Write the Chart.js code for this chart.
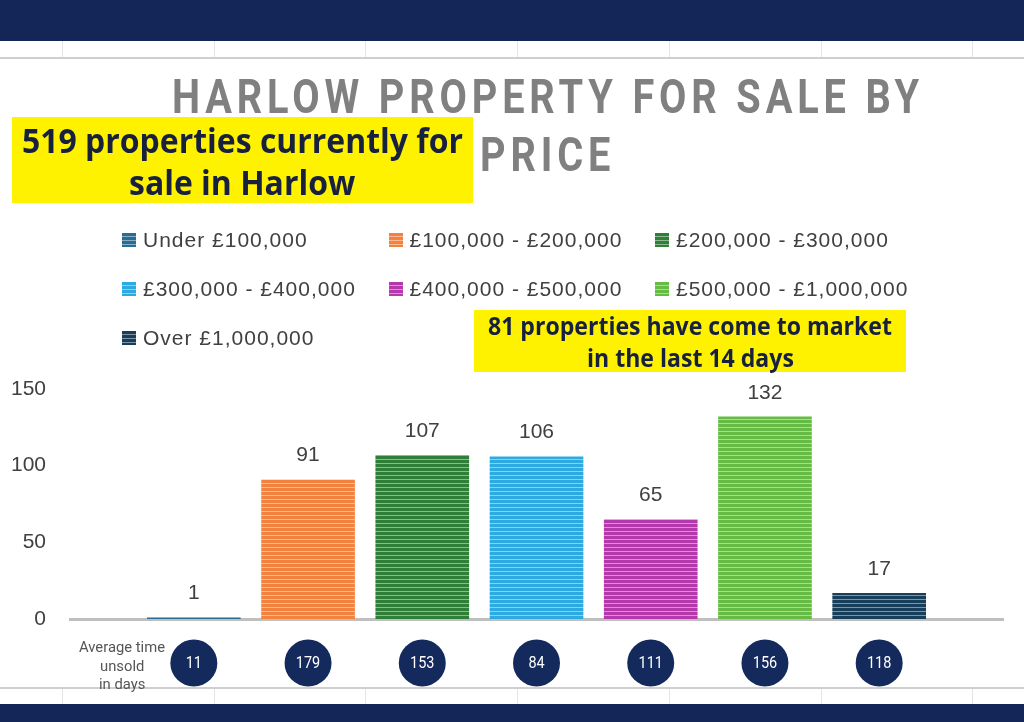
<!DOCTYPE html>
<html>
<head>
<meta charset="utf-8">
<script src="https://cdn.jsdelivr.net/npm/chart.js@4.4.1/dist/chart.umd.min.js"></script>
<style>
  html, body { margin: 0; padding: 0; }
  body { width: 1024px; height: 722px; position: relative; overflow: hidden; background: #fff; font-family: "Liberation Sans", Arial, sans-serif; }
  .band { position: absolute; left: 0; width: 1024px; background: #132657; }
  .cells { position: absolute; left: 0; width: 1024px; height: 16px; }
  .cells span { position: absolute; top: 0; width: 1px; height: 100%; background: #e4e4e4; }
  .rule { position: absolute; left: 0; width: 1024px; height: 2px; background: #cfcfcf; }
  #chartWrap { position: absolute; left: 0; top: 0; width: 1024px; height: 722px; }
  .line { position: absolute; white-space: nowrap; }
  .line span { display: inline-block; transform-origin: 0 0; }
  .title { color: #808080; font-family: Roboto, sans-serif; font-weight: bold; font-size: 49px; letter-spacing: 6px; line-height: 49px; }
  .note { position: absolute; background: #fff200; }
  .noteText { color: #17213f; font-family: "Open Sans", "Noto Sans", sans-serif; font-weight: bold; }
  #legend { position: absolute; left: 122px; top: 225px; width: 820px; }
  .item { position: absolute; height: 30px; display: flex; align-items: center; font-size: 21px; color: #404040; letter-spacing: 1px; white-space: nowrap; }
  .item i { display: inline-block; width: 14px; height: 14px; margin-right: 7px; }
  .avg { color: #555; font-family: Roboto, sans-serif; font-size: 14px; }
</style>
</head>
<body>
<div class="band" style="top:0;height:41px"></div>
<div class="cells" id="cellsTop" style="top:41px"></div>
<div class="rule" style="top:57px"></div>
<div class="rule" style="top:687px"></div>
<div class="cells" id="cellsBottom" style="top:689px;height:15px"></div>
<div class="band" style="top:704px;height:18px"></div>

<div id="chartWrap"><canvas id="priceChart"></canvas></div>

<div class="note" style="left:12px;top:117px;width:461px;height:86px"></div>
<div class="note" style="left:474px;top:310px;width:432px;height:62px"></div>
<div id="legend"></div>

<script>
// Chart data
const priceBands = ['Under £100,000', '£100,000 - £200,000', '£200,000 - £300,000', '£300,000 - £400,000',
  '£400,000 - £500,000', '£500,000 - £1,000,000', 'Over £1,000,000'];
const propertyCounts = [1, 91, 107, 106, 65, 132, 17];
const avgDaysUnsold = [11, 179, 153, 84, 111, 156, 118];
const bandColors = ['#2b6c93', '#f4823f', '#2f7f38', '#2eaae2', '#b43aab', '#66bb45', '#173f5c'];
const yTicks = [0, 50, 100, 150];

// Centered text lines, squeezed so the first line fits the target width
function placeLines(lines, cls, cx, top, lineH, targetW, extraStyle) {
  let scale = 1;
  lines.forEach(function(text, i) {
    const d = document.createElement('div');
    d.className = 'line ' + cls;
    d.style.top = (top + i * lineH) + 'px';
    if (extraStyle) d.setAttribute('style', d.getAttribute('style') + ';' + extraStyle);
    const s = document.createElement('span');
    s.textContent = text;
    d.appendChild(s);
    document.body.appendChild(d);
    const w = s.getBoundingClientRect().width;
    if (i === 0 && targetW) scale = targetW / w;
    s.style.transform = 'scaleX(' + scale + ')';
    d.style.left = (cx - w * scale / 2) + 'px';
  });
}

placeLines(['HARLOW PROPERTY FOR SALE BY', 'PRICE'], 'title', 548, 72, 58, 752);
placeLines(['519 properties currently for', 'sale in Harlow'], 'noteText', 242, 119, 42, 441, 'font-size:34px;line-height:42px');
placeLines(['81 properties have come to market', 'in the last 14 days'], 'noteText', 690, 309, 32, 404, 'font-size:25px;line-height:32px');
placeLines(['Average time', 'unsold', 'in days'], 'avg', 122, 638, 18.5, 86, 'line-height:18px');

// Striped fill like the original bars
function lighten(hex, amt) {
  const n = parseInt(hex.slice(1), 16);
  const r = (n >> 16) & 255, g = (n >> 8) & 255, b = n & 255;
  const mix = c => Math.round(c + (255 - c) * amt);
  return 'rgb(' + mix(r) + ',' + mix(g) + ',' + mix(b) + ')';
}

function stripePattern(ctx, color) {
  const c = document.createElement('canvas');
  c.width = 4; c.height = 4;
  const p = c.getContext('2d');
  p.fillStyle = color;
  p.fillRect(0, 0, 4, 3);
  p.fillStyle = lighten(color, 0.45);
  p.fillRect(0, 3, 4, 1);
  return ctx.createPattern(c, 'repeat');
}

// Spreadsheet cell lines top and bottom
['cellsTop', 'cellsBottom'].forEach(function(id) {
  const row = document.getElementById(id);
  for (let i = 0; i < 7; i++) {
    const s = document.createElement('span');
    s.style.left = (62 + i * 151.7) + 'px';
    row.appendChild(s);
  }
});

// Legend in three columns
const legend = document.getElementById('legend');
priceBands.forEach(function(label, i) {
  const item = document.createElement('div');
  item.className = 'item';
  item.style.left = (i % 3) * 266.5 + 'px';
  item.style.top = Math.floor(i / 3) * 49 + 'px';
  const light = lighten(bandColors[i], 0.45);
  item.innerHTML = '<i style="background: repeating-linear-gradient(to bottom, ' + bandColors[i] + ' 0 3px, ' +
    light + ' 3px 4px)"></i>' + label;
  legend.appendChild(item);
});

// Labels above bars and the average-days circles
const barExtras = {
  id: 'barExtras',
  afterDatasetsDraw(chart) {
    const ctx = chart.ctx;
    ctx.save();
    chart.data.datasets.forEach(function(ds, i) {
      const bar = chart.getDatasetMeta(i).data[0];
      ctx.fillStyle = '#404040';
      ctx.font = '21px "Liberation Sans", Arial, sans-serif';
      ctx.textAlign = 'center';
      ctx.textBaseline = 'alphabetic';
      ctx.fillText(String(ds.data[0]), bar.x, bar.y - 18);

      const cy = 663;
      ctx.beginPath();
      ctx.arc(bar.x, cy, 23.5, 0, Math.PI * 2);
      ctx.fillStyle = '#142a5c';
      ctx.fill();
      ctx.fillStyle = '#ffffff';
      ctx.font = '17px Roboto, sans-serif';
      ctx.textBaseline = 'middle';
      ctx.save();
      ctx.translate(bar.x, cy + 1);
      ctx.scale(0.85, 1);
      ctx.fillText(String(avgDaysUnsold[i]), 0, 0);
      ctx.restore();
    });
    ctx.restore();
  }
};

const canvas = document.getElementById('priceChart');
const ctx = canvas.getContext('2d');

new Chart(ctx, {
  type: 'bar',
  data: {
    labels: [''],
    datasets: priceBands.map(function(label, i) {
      return {
        label: label,
        data: [propertyCounts[i]],
        backgroundColor: stripePattern(ctx, bandColors[i]),
        borderWidth: 0
      };
    })
  },
  options: {
    responsive: true,
    maintainAspectRatio: false,
    animation: false,
    devicePixelRatio: 1,
    categoryPercentage: 0.857,
    barPercentage: 0.82,
    layout: { padding: { top: 389, bottom: 103, left: 0, right: 21 } },
    plugins: {
      legend: { display: false },
      title: { display: false },
      tooltip: { enabled: false }
    },
    scales: {
      x: {
        grid: { display: false },
        ticks: { display: false },
        border: { display: true, color: '#bfbfbf', width: 3 },
        afterFit: function(scale) { scale.height = 0; }
      },
      y: {
        min: 0,
        max: 150,
        afterBuildTicks: function(scale) {
          scale.ticks = yTicks.map(function(v) { return { value: v }; });
        },
        grid: { display: false, drawTicks: false },
        border: { display: false },
        ticks: {
          padding: 24,
          color: '#404040',
          font: { family: '"Liberation Sans", Arial, sans-serif', size: 21 }
        },
        afterFit: function(scale) { scale.width = 70; }
      }
    }
  },
  plugins: [barExtras]
});
</script>
</body>
</html>
